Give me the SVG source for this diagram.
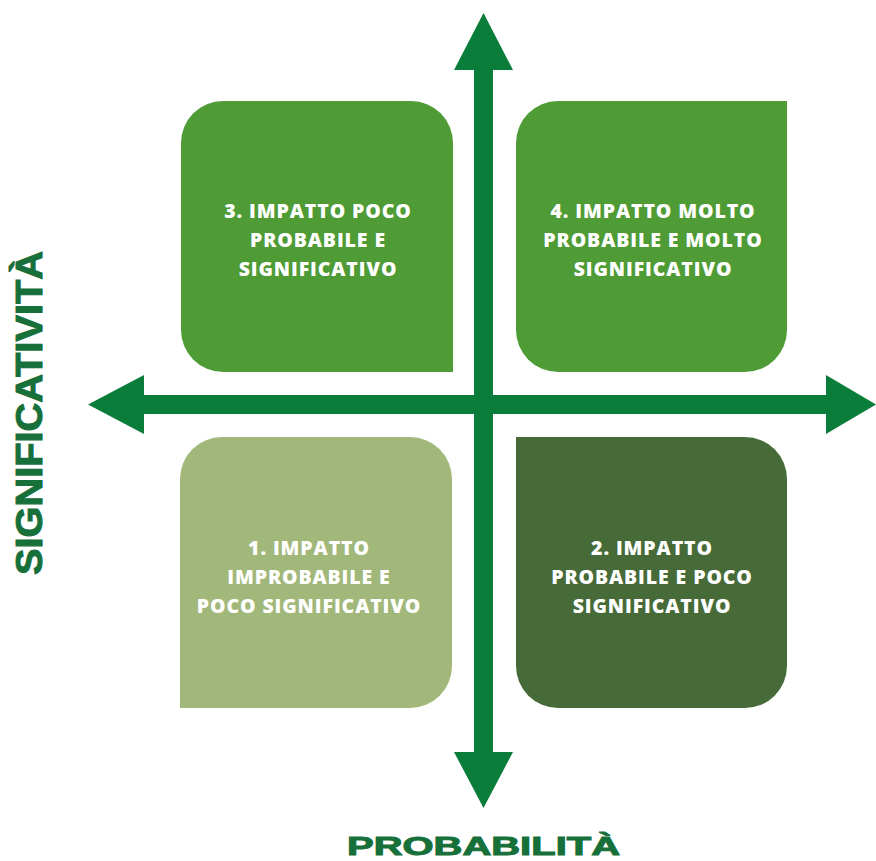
<svg xmlns="http://www.w3.org/2000/svg" width="876" height="861" viewBox="0 0 876 861">
<style>
.lbl{font-family:"Open Sans","Liberation Sans",sans-serif;font-weight:800;font-size:19.5px;letter-spacing:0.9px;fill:#ffffff;text-anchor:middle}
.axis{font-family:"Liberation Sans",Arial,sans-serif;font-weight:700;fill:#17703a;stroke:#17703a;stroke-width:1}
.arr{fill:#0b7d3a}
</style>
<rect width="876" height="861" fill="#ffffff"/>
<g id="connectors">
<rect class="arr" x="474" y="68" width="19" height="686"/>
<polygon class="arr" points="483.5,13 513,70 454,70"/>
<polygon class="arr" points="454,752 513,752 483.5,808"/>
<rect class="arr" x="142" y="395" width="686" height="19"/>
<polygon class="arr" points="88,404.5 144,375 144,434"/>
<polygon class="arr" points="826,375 876,404.5 826,434"/>
</g>
<g id="q3">
<path d="M223,101 H411 A42,42 0 0 1 453,143 V372 H223 A42,42 0 0 1 181,330 V143 A42,42 0 0 1 223,101 Z" fill="#4f9b36"/>
<text class="lbl" x="318" y="218">3. IMPATTO POCO</text>
<text class="lbl" x="318" y="247">PROBABILE E</text>
<text class="lbl" x="318" y="276">SIGNIFICATIVO</text>
</g>
<g id="q4">
<path d="M558,101 H787 V330 A42,42 0 0 1 745,372 H558 A42,42 0 0 1 516,330 V143 A42,42 0 0 1 558,101 Z" fill="#4f9b36"/>
<text class="lbl" x="653" y="218">4. IMPATTO MOLTO</text>
<text class="lbl" x="653" y="247">PROBABILE E MOLTO</text>
<text class="lbl" x="653" y="276">SIGNIFICATIVO</text>
</g>
<g id="q1">
<path d="M222,437 H410 A42,42 0 0 1 452,479 V666 A42,42 0 0 1 410,708 H180 V479 A42,42 0 0 1 222,437 Z" fill="#a2b77a"/>
<text class="lbl" x="309" y="555">1. IMPATTO</text>
<text class="lbl" x="309" y="584">IMPROBABILE E</text>
<text class="lbl" x="309" y="613">POCO SIGNIFICATIVO</text>
</g>
<g id="q2">
<path d="M516,437 H745 A42,42 0 0 1 787,479 V666 A42,42 0 0 1 745,708 H558 A42,42 0 0 1 516,666 Z" fill="#466b38"/>
<text class="lbl" x="652" y="555">2. IMPATTO</text>
<text class="lbl" x="652" y="584">PROBABILE E POCO</text>
<text class="lbl" x="652" y="613">SIGNIFICATIVO</text>
</g>
<g id="axis-y">
<text class="axis" transform="translate(42,575) rotate(-90)" x="0" y="0" font-size="36" textLength="324" lengthAdjust="spacingAndGlyphs">SIGNIFICATIVITÀ</text>
</g>
<g id="axis-x">
<text class="axis" x="347" y="855" font-size="26" textLength="273" lengthAdjust="spacingAndGlyphs">PROBABILITÀ</text>
</g>
</svg>
